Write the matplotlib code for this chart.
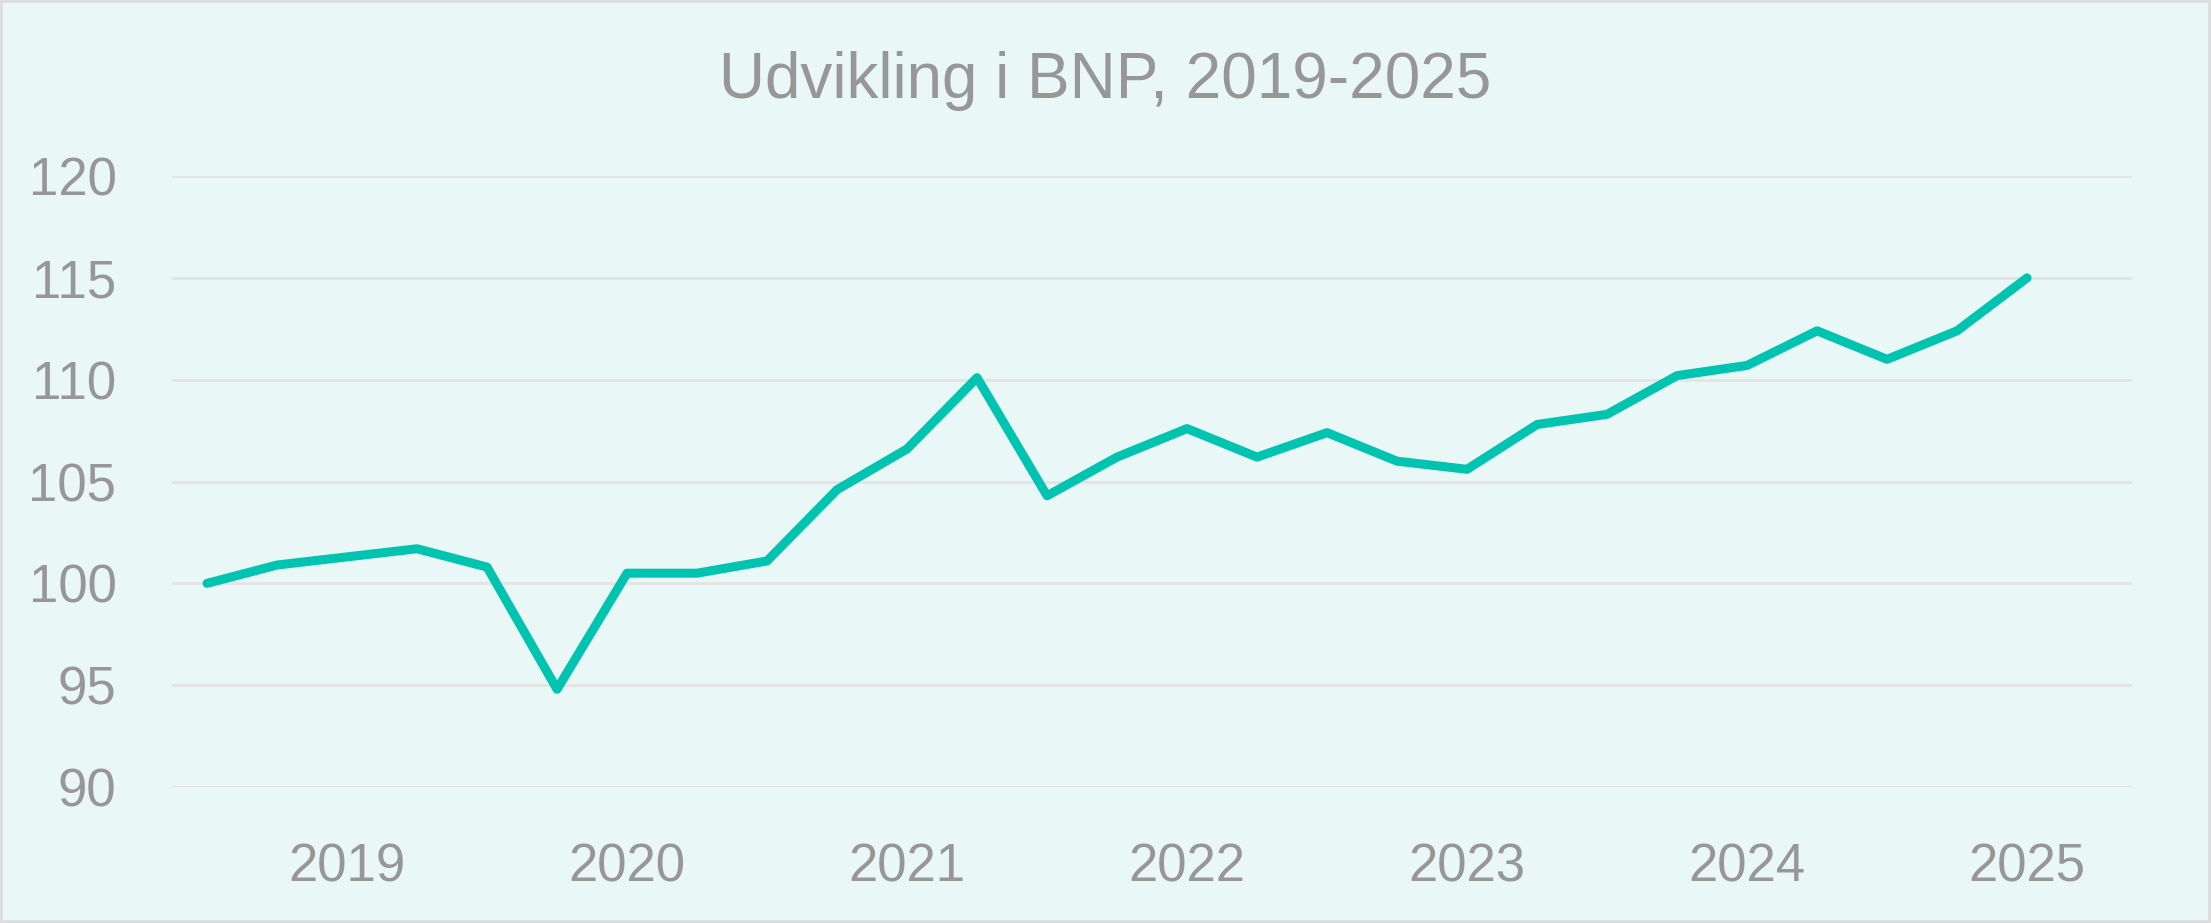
import numpy as np
import matplotlib.pyplot as plt
from matplotlib.patches import Rectangle

# quarterly BNP index (2019Q1 = 100); last slot is empty
bnp = [100.0, 100.9, 101.3, 101.7, 100.8, 94.8, 100.5, 100.5, 101.1,
       104.6, 106.6, 110.1, 104.3, 106.2, 107.6, 106.2, 107.4, 106.0,
       105.6, 107.8, 108.3, 110.2, 110.7, 112.4, 111.0, 112.4, 115.0, np.nan]
year_pos = [2, 6, 10, 14, 18, 22, 26]
year_labels = ['2019', '2020', '2021', '2022', '2023', '2024', '2025']
y_ticks = [90, 95, 100, 105, 110, 115, 120]

bg = '#E9F7F6'
grey = '#979797'
line_col = '#00C4B0'

plt.rcParams['font.family'] = ['Liberation Sans', 'DejaVu Sans']

fig = plt.figure(figsize=(22.11, 9.23), dpi=100, facecolor=bg)
ax = fig.add_axes([0.0778, 0.1473, 0.8865, 0.662], facecolor=bg)

x = np.arange(len(bnp))
ax.plot(x, bnp, color=line_col, lw=6.5, solid_capstyle='round',
        solid_joinstyle='round', clip_on=False, zorder=3)

ax.set_xlim(-0.5, len(bnp) - 0.5)
ax.set_ylim(90, 120)
ax.set_yticks(y_ticks)
ax.set_xticks(year_pos)
ax.set_xticklabels(year_labels)
ax.grid(axis='y', color='#E4E4E4', lw=2)
ax.tick_params(axis='both', length=0, labelsize=38, colors=grey)
ax.tick_params(axis='y', pad=40)
ax.tick_params(axis='x', pad=40)
for s in ax.spines.values():
    s.set_visible(False)

fig.text(0.5, 0.912, 'Udvikling i BNP, 2019-2025', ha='center', va='center',
         fontsize=46, color=grey)

# thin frame around the chart
fig.patches.append(Rectangle((0, 0), 1, 1, transform=fig.transFigure,
                             fill=False, edgecolor='#DCDCDC', lw=4))

fig.savefig('out.png', dpi=100, facecolor=bg)
